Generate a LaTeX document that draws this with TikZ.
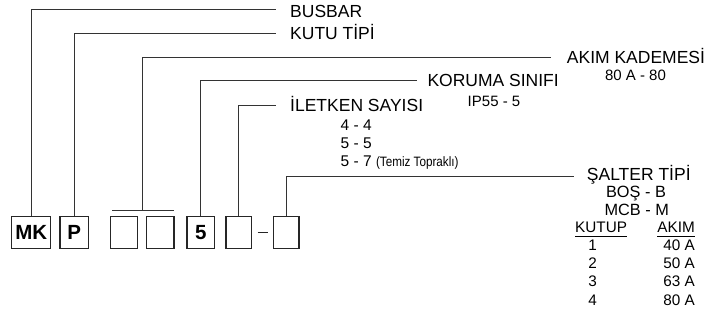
\documentclass[tikz,border=0pt]{standalone}
\usepackage{fontspec}
\setmainfont{Liberation Sans}
\begin{document}
\begin{tikzpicture}[x=1pt,y=-1pt,
  conn/.style={draw=black!80,line width=0.9pt},
  codebox/.style={draw=black!85,line width=1.3pt,minimum height=31.5pt,inner sep=0pt,font=\fontsize{20.5}{22}\selectfont\bfseries},
  lbl/.style={anchor=base west,inner sep=0pt,font=\fontsize{17.5}{19}\selectfont},
  sub/.style={anchor=base,inner sep=0pt,font=\fontsize{15}{17}\selectfont},
  subl/.style={anchor=base west,inner sep=0pt,font=\fontsize{15.5}{17}\selectfont},
  tab/.style={inner sep=0pt,font=\fontsize{15.3}{17}\selectfont}]
\useasboundingbox (0,0) rectangle (709,329);
% boxes
\node[codebox,minimum width=39pt] (mk) at (31.2,232.5) {MK};
\node[codebox,minimum width=28.3pt] (p) at (74.2,232.5) {P};
\node[codebox,minimum width=27pt] (b3) at (124.2,232.5) {};
\node[codebox,minimum width=27.3pt] (b4) at (160.3,232.5) {};
\node[codebox,minimum width=27.3pt] (b5) at (200.7,232.5) {5};
\node[codebox,minimum width=25.7pt] (b6) at (238.8,232.5) {};
\node[codebox,minimum width=25.7pt] (b7) at (286.2,232.5) {};
\coordinate (dsA) at (257.7,232.3);
\coordinate (dsB) at (268,232.3);
\draw[black!85,line width=1.3pt] (dsA) -- (dsB);
% bracket
\coordinate (brA) at (112,210.3);
\coordinate (brB) at (173.7,210.3);
\coordinate (brM) at (142.7,210.3);
\draw[conn] (brA) -- (brB);
% labels
\node[lbl] (busbar) at (290,17.3) {BUSBAR};
\node[lbl] (kutu) at (290,39.5) {KUTU TİPİ};
\node[lbl] (akim) at (566.7,63.3) {AKIM KADEMESİ};
\node[sub] (akimv) at (635.5,81) {80 A - 80};
\node[lbl] (koruma) at (427.3,86.7) {KORUMA SINIFI};
\node[sub] (korumav) at (494,106) {IP55 - 5};
\node[lbl] (iletken) at (290,111.3) {İLETKEN SAYISI};
\node[subl] (il1) at (340.5,130) {4 - 4};
\node[subl] (il2) at (340.5,148.3) {5 - 5};
\node[subl] (il3) at (340.5,166.7) {5 - 7 \scalebox{0.86}[1]{\fontsize{13.6}{15}\selectfont(Temiz Topraklı)}};
\node[lbl] (salter) at (586.7,180.7) {ŞALTER TİPİ};
\node[sub,font=\fontsize{16.3}{18}\selectfont] (bos) at (636,197.7) {BOŞ - B};
\node[sub,font=\fontsize{16.3}{18}\selectfont] (mcb) at (636.7,215) {MCB - M};
\node[tab,anchor=base west] (kutup) at (575,232.7) {KUTUP};
\node[tab,anchor=base east] (akimh) at (695,232.7) {AKIM};
\draw[line width=0.9pt] (kutup.west |- 0,236.7) -- (kutup.east |- 0,236.7);
\draw[line width=0.9pt] (akimh.west |- 0,236.7) -- (akimh.east |- 0,236.7);
\node[tab,anchor=base] (k1) at (592.7,250) {1};
\node[tab,anchor=base] (k2) at (592.7,268.3) {2};
\node[tab,anchor=base] (k3) at (592.7,286.7) {3};
\node[tab,anchor=base] (k4) at (592.7,305) {4};
\node[tab,anchor=base east] (a1) at (695,250) {40 A};
\node[tab,anchor=base east] (a2) at (695,268.3) {50 A};
\node[tab,anchor=base east] (a3) at (695,286.7) {63 A};
\node[tab,anchor=base east] (a4) at (695,305) {80 A};
% connector ends
\coordinate (e1) at (276,9.7);
\coordinate (e2) at (276,33.3);
\coordinate (e3) at (550.7,57.3);
\coordinate (e4) at (417.3,80.7);
\coordinate (e5) at (276,105.7);
\coordinate (e6) at (574,176.5);
% connectors
\draw[conn] (mk.north) |- (e1);
\draw[conn] (p.north) |- (e2);
\draw[conn] (brM) |- (e3);
\draw[conn] (b5.north) |- (e4);
\draw[conn] (b6.north) |- (e5);
\draw[conn] (b7.north) |- (e6);
\end{tikzpicture}
\end{document}
